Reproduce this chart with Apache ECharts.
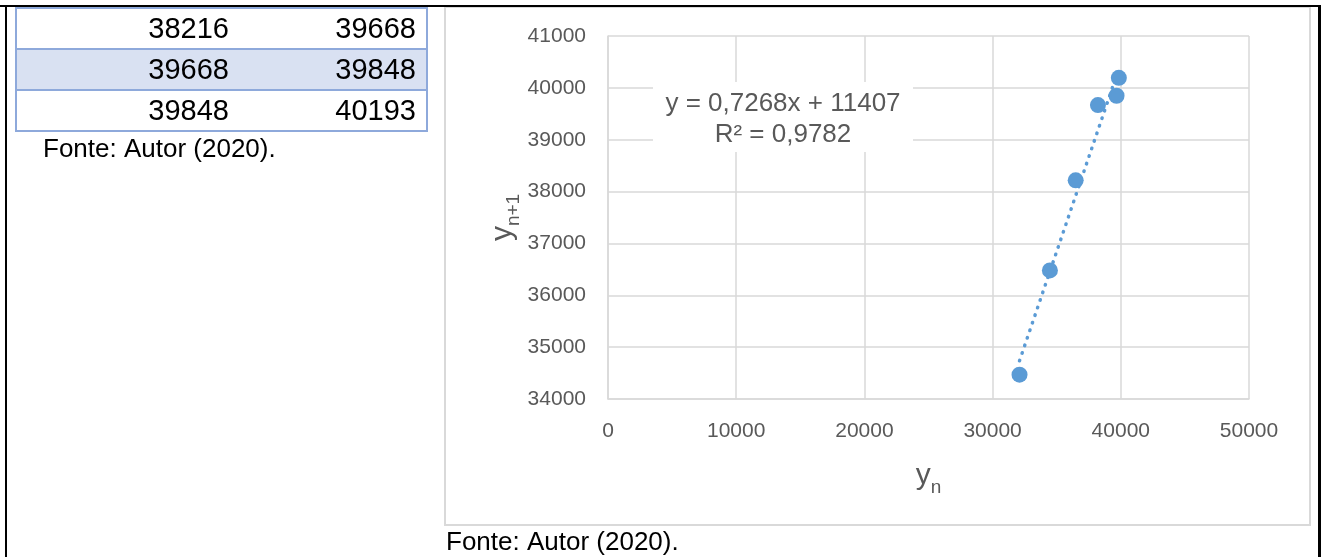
<!DOCTYPE html>
<html>
<head>
<meta charset="utf-8">
<script src="https://cdn.jsdelivr.net/npm/echarts@6/dist/echarts.min.js"></script>
<style>
html,body{margin:0;padding:0;background:#fff;}
#c{width:1321px;height:557px;}
</style>
</head>
<body>
<div id="c"></div>
<script>
// Data: pairs (y_n, y_{n+1})
const yn  = [32100, 34470, 36480, 38216, 39668, 39848];
const yn1 = [34470, 36480, 38216, 39668, 39848, 40193];
// Table rows shown at the top-left (tail of the source table)
const tableYn  = [38216, 39668, 39848];
const tableYn1 = [39668, 39848, 40193];
// Excel linear trendline, endpoints
const trendX = [32100, 39848];
const trendY = [34737, 40369];
const eqText = 'y = 0,7268x + 11407';
const r2Text = 'R² = 0,9782';
const caption = 'Fonte: Autor (2020).';
const xTicks = {min: 0, max: 50000, interval: 10000};
const yTicks = {min: 34000, max: 41000, interval: 1000};

const FONT = '"Liberation Sans", Arial, sans-serif';
const BLUE = '#5B9BD5';
const GRIDC = '#D9D9D9';
const TXT = '#595959';

const chart = echarts.init(document.getElementById('c'), null, {renderer: 'canvas'});

// table graphics
const tbl = [];
const tLeft = 16, tRight = 427, rowTops = [8, 49, 90, 131];
for (let i = 0; i < tableYn.length; i++) {
  const y0 = rowTops[i], y1 = rowTops[i + 1];
  tbl.push({type: 'rect', shape: {x: tLeft, y: y0, width: tRight - tLeft, height: y1 - y0},
    style: {fill: i % 2 === 1 ? '#D9E1F2' : '#fff', stroke: '#8EA9DB', lineWidth: 2}, z: 1});
  tbl.push({type: 'text', x: 229, y: (y0 + y1) / 2 + 1, z: 2,
    style: {text: String(tableYn[i]), font: '29px ' + FONT, fill: '#000', align: 'right', verticalAlign: 'middle'}});
  tbl.push({type: 'text', x: 416, y: (y0 + y1) / 2 + 1, z: 2,
    style: {text: String(tableYn1[i]), font: '29px ' + FONT, fill: '#000', align: 'right', verticalAlign: 'middle'}});
}

const nameRich = {
  a: {fontSize: 30, color: TXT, fontFamily: FONT, padding: [0, 0, 6, 0]},
  b: {fontSize: 19, color: TXT, fontFamily: FONT, verticalAlign: 'bottom'}
};

const option = {
  backgroundColor: '#fff',
  animation: false,
  grid: {left: 608, right: 72, top: 36, bottom: 158, containLabel: false},
  xAxis: {
    type: 'value', min: xTicks.min, max: xTicks.max, interval: xTicks.interval,
    name: '{a|y}{b|n}', nameLocation: 'middle', nameGap: 62,
    nameTextStyle: {color: TXT, fontFamily: FONT, rich: nameRich},
    axisLine: {show: true, lineStyle: {color: GRIDC, width: 1.5}},
    axisTick: {show: false},
    axisLabel: {color: TXT, fontSize: 21, fontFamily: FONT, margin: 22, formatter: v => String(v)},
    splitLine: {show: true, lineStyle: {color: GRIDC, width: 1.5}}
  },
  yAxis: {
    type: 'value', min: yTicks.min, max: yTicks.max, interval: yTicks.interval,
    name: '{a|y}{b|n+1}', nameLocation: 'middle', nameGap: 84, nameRotate: 90,
    nameTextStyle: {color: TXT, fontFamily: FONT, rich: nameRich},
    axisLine: {show: true, lineStyle: {color: GRIDC, width: 1.5}},
    axisTick: {show: false},
    axisLabel: {color: TXT, fontSize: 21, fontFamily: FONT, margin: 22, formatter: v => String(v)},
    splitLine: {show: true, lineStyle: {color: GRIDC, width: 1.5}}
  },
  series: [
    {
      type: 'line', name: 'trend', data: trendX.map((x, i) => [x, trendY[i]]),
      showSymbol: false, symbol: 'none', silent: true, z: 2,
      lineStyle: {color: BLUE, width: 3.5, type: [0.5, 7.5], cap: 'round'}
    },
    {
      type: 'scatter', name: 'dados', data: yn.map((x, i) => [x, yn1[i]]),
      symbol: 'circle', symbolSize: 16, z: 3,
      itemStyle: {color: BLUE, opacity: 1}
    }
  ],
  graphic: [
    // outer black frame
    {type: 'rect', shape: {x: 0, y: 5, width: 1321, height: 2}, style: {fill: '#000'}, z: 10},
    {type: 'rect', shape: {x: 5, y: 5, width: 2, height: 552}, style: {fill: '#000'}, z: 10},
    {type: 'rect', shape: {x: 1318, y: 5, width: 3, height: 552}, style: {fill: '#000'}, z: 10},
    // chart box
    {type: 'rect', shape: {x: 445, y: 7, width: 865, height: 518}, style: {fill: 'none', stroke: GRIDC, lineWidth: 2}, z: 0},
    // trendline label box
    {type: 'rect', shape: {x: 653, y: 82, width: 260, height: 70}, style: {fill: '#fff'}, z: 5},
    {type: 'text', x: 783, y: 104, z: 6, style: {text: eqText, font: '26px ' + FONT, fill: TXT, align: 'center', verticalAlign: 'middle'}},
    {type: 'text', x: 783, y: 135, z: 6, style: {text: r2Text, font: '26px ' + FONT, fill: TXT, align: 'center', verticalAlign: 'middle'}},
    // captions
    {type: 'text', x: 43, y: 150, z: 6, style: {text: caption, font: '26px ' + FONT, fill: '#000', align: 'left', verticalAlign: 'middle'}},
    {type: 'text', x: 446, y: 543, z: 6, style: {text: caption, font: '26px ' + FONT, fill: '#000', align: 'left', verticalAlign: 'middle'}}
  ].concat(tbl)
};
chart.setOption(option);
</script>
</body>
</html>
